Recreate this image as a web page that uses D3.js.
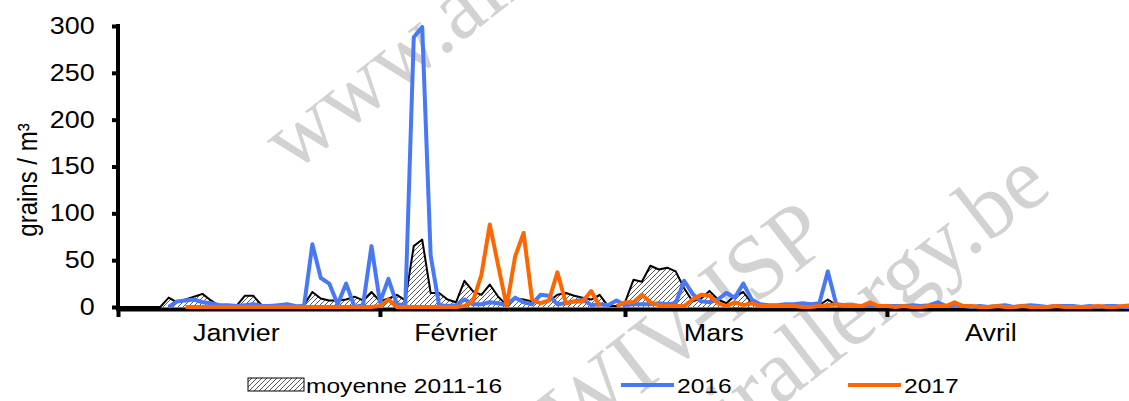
<!DOCTYPE html>
<html>
<head>
<meta charset="utf-8">
<script src="https://cdn.jsdelivr.net/npm/d3@7"></script>
<style>
  body { margin: 0; background: #fff; }
  svg text { font-family: "Liberation Sans", Arial, sans-serif; fill: #000; }
</style>
</head>
<body>
<div id="chart"></div>
<script>
// daily values, 1 Jan -> 30 Apr (121 days, Feb with 29 days)
var months = ["Janvier", "Février", "Mars", "Avril"];
var monthStarts = [0, 31, 60, 91, 121];
var labelDays = [14, 40, 70.5, 103.3];
var yTicks = [0, 50, 100, 150, 200, 250, 300];
var seriesNames = ["moyenne 2011-16", "2016", "2017"];

var mean = [0,0,0,0,0,0,10,5,8,11, 14,7,1,2,1,12,12,2,1,2,
  1,1,2,16,9,7,7,8,11,7, 16,6,9,13,7,65,72,15,15,8,
  5,28,17,13,24,11,2,9,8,6, 5,6,13,15,12,10,8,13,1,1,
  5,29,27,44,40,42,38,20,6,9, 17,8,4,12,16,4,2,2,2,1,
  2,1,1,2,8,2,1,1,2,2, 1,1,1,1,1,1,2,3,1,2,
  1,1,0,1,1,0,1,0,1,0, 0,1,0,0,1,0,0,0,1,0, 0];

var y2016 = [null,null,null,null,null,null,0,6,7,8, 5,4,2,2,1,2,3,1,1,2,
  3,1,0,67,31,25,3,25,0,2, 65,5,30,3,2,288,299,55,2,1,
  2,8,3,3,5,4,2,10,5,3, 13,12,3,4,6,8,2,3,2,7,
  2,3,3,3,4,3,4,28,14,6, 5,8,15,10,25,8,3,2,2,3,
  3,4,3,4,38,3,2,2,1,1, 1,1,1,1,2,1,2,5,1,3,
  1,0,1,0,1,2,0,1,2,1, 0,1,1,1,0,1,0,1,1,0, 0];

var y2017 = [null,null,null,null,null,null,null,null,0,0, 0,0,0,0,0,0,0,0,0,0,
  0,0,0,0,0,0,0,0,0,0, 0,1,8,0,0,0,0,0,0,0,
  0,1,6,34,88,44,1,54,79,8, 4,7,37,4,6,6,17,1,null,1,
  5,5,13,5,2,1,1,1,8,13, 12,4,1,5,2,4,1,1,1,1,
  1,0,0,1,2,3,1,1,1,5, 1,1,0,1,0,0,1,1,1,5,
  1,1,0,0,1,0,0,1,0,0, 0,1,0,0,0,0,1,0,0,1, 2];

var width = 1129, height = 401;
var stretch = 1.17; // text in the picture is drawn a bit wide

var svg = d3.select("#chart").append("svg")
  .attr("width", width)
  .attr("height", height);

// hatch pattern for the 2011-16 mean
var defs = svg.append("defs");
var pat = defs.append("pattern")
  .attr("id", "hatch")
  .attr("patternUnits", "userSpaceOnUse")
  .attr("width", 5).attr("height", 5);
pat.append("rect").attr("width", 5).attr("height", 5).attr("fill", "#fff");
pat.append("path")
  .attr("d", "M-1,1 l2,-2 M0,5 l5,-5 M4,6 l2,-2")
  .attr("stroke", "#444").attr("stroke-width", 0.9);

// watermark
var wm = svg.append("g").attr("class", "watermark");
var wmText = [
  {t: "www.airallergy.be", x: 292, y: 174},
  {t: "WIV-ISP", x: 572, y: 448},
  {t: "www.airallergy.be", x: 537, y: 596}
];
wm.selectAll("text").data(wmText).enter().append("text")
  .attr("transform", d => "translate(" + d.x + "," + d.y + ") rotate(-38)")
  .style("font-family", "'Liberation Serif', 'DejaVu Serif', serif")
  .style("font-size", "90px")
  .style("fill", "#d2d2d2")
  .text(d => d.t);

var x = d3.scaleLinear().domain([0, 121]).range([118, 118 + 121 * 8.45]);
var y = d3.scaleLinear().domain([0, 300]).range([307, 26]);

// y axis
var yAxis = svg.append("g")
  .attr("transform", "translate(118,0)")
  .call(d3.axisLeft(y).tickValues(yTicks).tickSize(6).tickSizeOuter(0).tickPadding(0));
yAxis.select(".domain").attr("stroke-width", 4).attr("d", "M0,24V311");
yAxis.selectAll(".tick line").attr("stroke-width", 4);
yAxis.selectAll(".tick text")
  .attr("x", -20)
  .attr("transform", "scale(" + stretch + ",1)")
  .style("font-size", "23px");

// x axis
var xAxis = svg.append("g")
  .attr("transform", "translate(0,309)")
  .call(d3.axisBottom(x).tickValues(monthStarts).tickSize(8).tickSizeOuter(0).tickFormat(""));
xAxis.select(".domain").attr("stroke-width", 4);
xAxis.selectAll(".tick line").attr("stroke-width", 4);

svg.append("g").selectAll("text")
  .data(months).enter().append("text")
  .attr("transform", (d, i) => "translate(" + x(labelDays[i]) + ",341) scale(" + stretch + ",1)")
  .attr("text-anchor", "middle")
  .style("font-size", "23px")
  .text(d => d);

// y title
svg.append("text")
  .attr("transform", "translate(37,180) rotate(-90) scale(1,1.17)")
  .attr("text-anchor", "middle")
  .style("font-size", "24px")
  .text("grains / m³");

// mean area + line
var meanData = mean.map((v, i) => ({i: i, v: v}));
svg.append("path")
  .datum(meanData)
  .attr("fill", "url(#hatch)")
  .attr("d", d3.area().x(d => x(d.i)).y0(y(0)).y1(d => y(d.v)));
svg.append("path")
  .datum(meanData)
  .attr("fill", "none")
  .attr("stroke", "#000")
  .attr("stroke-width", 2)
  .attr("stroke-linejoin", "round")
  .attr("d", d3.line().x(d => x(d.i)).y(d => y(d.v)));

var line = d3.line()
  .defined(d => d.v !== null)
  .x(d => x(d.i))
  .y(d => y(d.v));

svg.append("path")
  .datum(y2016.map((v, i) => ({i: i, v: v})))
  .attr("fill", "none")
  .attr("stroke", "#4878f5")
  .attr("stroke-width", 4)
  .attr("stroke-linejoin", "round")
  .attr("d", line);

svg.append("path")
  .datum(y2017.map((v, i) => ({i: i, v: v})))
  .attr("fill", "none")
  .attr("stroke", "#ff6600")
  .attr("stroke-width", 4)
  .attr("stroke-linejoin", "round")
  .attr("d", line);

// legend
var legend = svg.append("g");
legend.append("rect")
  .attr("x", 248).attr("y", 378).attr("width", 56).attr("height", 13)
  .attr("fill", "url(#hatch)").attr("stroke", "#000").attr("stroke-width", 1);
legend.append("line")
  .attr("x1", 621).attr("x2", 674).attr("y1", 385).attr("y2", 385)
  .attr("stroke", "#4878f5").attr("stroke-width", 4);
legend.append("line")
  .attr("x1", 848).attr("x2", 901).attr("y1", 385).attr("y2", 385)
  .attr("stroke", "#ff6600").attr("stroke-width", 4);
var legX = [306, 677, 904];
legend.selectAll("text")
  .data(seriesNames).enter().append("text")
  .attr("transform", (d, i) => "translate(" + legX[i] + ",393) scale(" + stretch + ",1)")
  .style("font-size", "21px")
  .text(d => d);
</script>
</body>
</html>
